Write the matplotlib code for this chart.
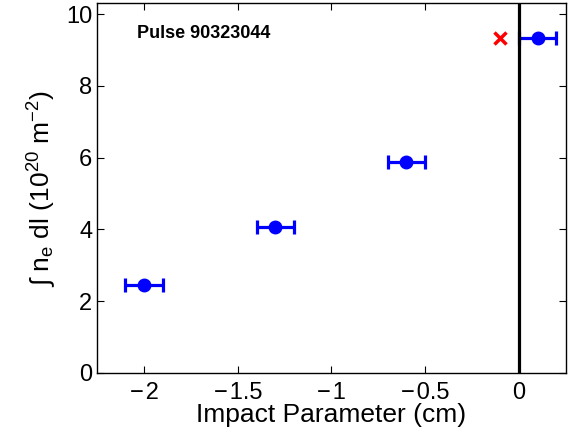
import numpy as np
import matplotlib
matplotlib.use('Agg')
from matplotlib import pyplot as plt

plt.rcParams['font.family'] = ['Liberation Sans', 'DejaVu Sans']
plt.rcParams['mathtext.fontset'] = 'custom'
plt.rcParams['mathtext.rm'] = 'Liberation Sans'
plt.rcParams['mathtext.it'] = 'Liberation Sans'

# impact parameter (cm) and line-integrated density (1e20 m^-2)
impact = [-2.0, -1.3, -0.6, 0.1]
nel = [2.45, 4.07, 5.88, 9.35]
impact_err = [0.1, 0.1, 0.1, 0.1]

# separate reference point
ref_x = [-0.1]
ref_y = [9.35]

xticks = [-2, -1.5, -1, -0.5, 0]
xtick_labels = ['\u2212\u200a2', '\u2212\u200a1.5', '\u2212\u200a1', '\u2212\u200a0.5', '0']

fig = plt.figure(figsize=(5.72, 4.37), dpi=100)
ax = fig.add_axes([0.170, 0.147, 0.819, 0.845])

ax.errorbar(impact, nel, xerr=impact_err, fmt='o', color='blue', ecolor='blue',
            markersize=9, elinewidth=2.3, capsize=5, capthick=2.3)
ax.plot(ref_x, ref_y, 'x', color='red', markersize=8, markeredgewidth=2.5)
ax.axvline(0, color='black', linewidth=2.3)

ax.set_xlim(-2.25, 0.25)
ax.set_ylim(0, 10.3)
ax.set_xticks(xticks)
ax.set_xticklabels(xtick_labels)
ax.set_yticks([0, 2, 4, 6, 8, 10])
ax.tick_params(direction='in', top=True, right=True, labelsize=17, length=5)
ax.tick_params(axis='x', pad=7)
for s in ax.spines.values():
    s.set_linewidth(1)

ax.set_xlabel('Impact Parameter (cm)', fontsize=19, labelpad=-1)
ax.set_ylabel('\u222b n$_\\mathregular{e}$ dl (10$^\\mathregular{20}$ m$^\\mathregular{-2}$)',
              fontsize=19, labelpad=6)
ax.text(-2.037, 9.35, 'Pulse 90323044', fontsize=13, fontweight='bold', va='baseline')

fig.savefig('out.png', dpi=100)
